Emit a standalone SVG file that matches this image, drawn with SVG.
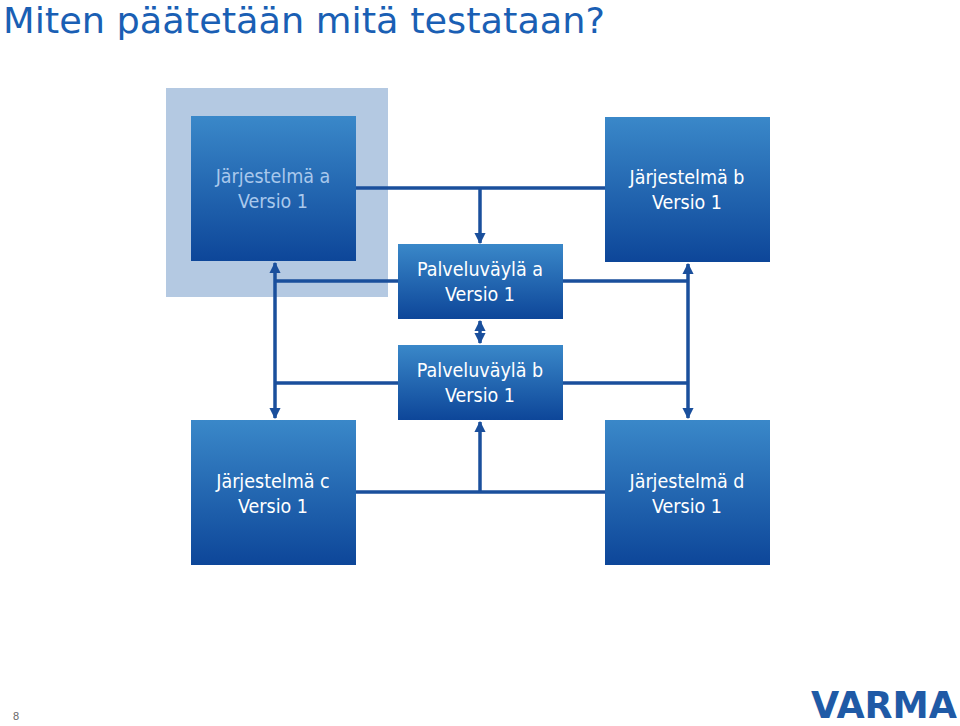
<svg xmlns="http://www.w3.org/2000/svg" width="960" height="726" viewBox="0 0 960 726">
<defs>
<linearGradient id="g" x1="0" y1="0" x2="0" y2="1">
<stop offset="0" stop-color="#3a88c9"/><stop offset="1" stop-color="#0d4699"/>
</linearGradient>
<marker id="ar" viewBox="0 0 10 10" refX="9" refY="5" markerWidth="3.2" markerHeight="3.2" orient="auto-start-reverse">
<path d="M0,0 L10,5 L0,10 z" fill="#1a4f9c"/>
</marker>
<style>
.box{fill:url(#g)}
.t{font-family:"DejaVu Sans Condensed","DejaVu Sans",sans-serif;font-size:19.5px;fill:#fff;text-anchor:middle}
.c{stroke:#1a4f9c;stroke-width:3.5;fill:none}
.ca{stroke:#1a4f9c;stroke-width:3.5;fill:none;marker-end:url(#ar)}
.cb{stroke:#1a4f9c;stroke-width:3.5;fill:none;marker-end:url(#ar);marker-start:url(#ar)}
</style>
</defs>
<rect width="960" height="726" fill="#fff"/>
<text x="3" y="33" font-family="DejaVu Sans Condensed,DejaVu Sans,sans-serif" font-size="35" fill="#1a5fb4" textLength="602" lengthAdjust="spacingAndGlyphs">Miten päätetään mitä testataan?</text>
<rect x="166" y="88" width="222" height="209" fill="#b4c9e2"/>
<g id="connectors">
<path class="c" d="M356,188 H605"/>
<path class="ca" d="M480,188 V243"/>
<path class="cb" d="M275,263 V418"/>
<path class="cb" d="M688,264 V418"/>
<path class="c" d="M275,281 H398 M563,281 H688 M275,383 H398 M563,383 H688"/>
<path class="cb" d="M480,321 V343"/>
<path class="c" d="M356,492 H605"/>
<path class="ca" d="M480,492 V422"/>
</g>
<g id="ja"><rect class="box" x="191" y="116" width="165" height="145"/><text class="t" x="273" y="183" style="fill:#a9c8ec">Järjestelmä a</text><text class="t" x="273" y="208" style="fill:#a9c8ec">Versio 1</text></g>
<g id="jb"><rect class="box" x="605" y="117" width="165" height="145"/><text class="t" x="687" y="184">Järjestelmä b</text><text class="t" x="687" y="209">Versio 1</text></g>
<g id="pa"><rect class="box" x="398" y="244" width="165" height="75"/><text class="t" x="480" y="276">Palveluväylä a</text><text class="t" x="480" y="301">Versio 1</text></g>
<g id="pb"><rect class="box" x="398" y="345" width="165" height="75"/><text class="t" x="480" y="377">Palveluväylä b</text><text class="t" x="480" y="402">Versio 1</text></g>
<g id="jc"><rect class="box" x="191" y="420" width="165" height="145"/><text class="t" x="273" y="488">Järjestelmä c</text><text class="t" x="273" y="513">Versio 1</text></g>
<g id="jd"><rect class="box" x="605" y="420" width="165" height="145"/><text class="t" x="687" y="488">Järjestelmä d</text><text class="t" x="687" y="513">Versio 1</text></g>
<text x="13" y="720" font-family="Liberation Sans,sans-serif" font-size="11" fill="#666">8</text>
<text x="884" y="718" text-anchor="middle" font-family="DejaVu Sans Condensed,DejaVu Sans,sans-serif" font-weight="bold" font-size="38" fill="#1f5aa6" textLength="146" lengthAdjust="spacingAndGlyphs">VARMA</text>
</svg>
